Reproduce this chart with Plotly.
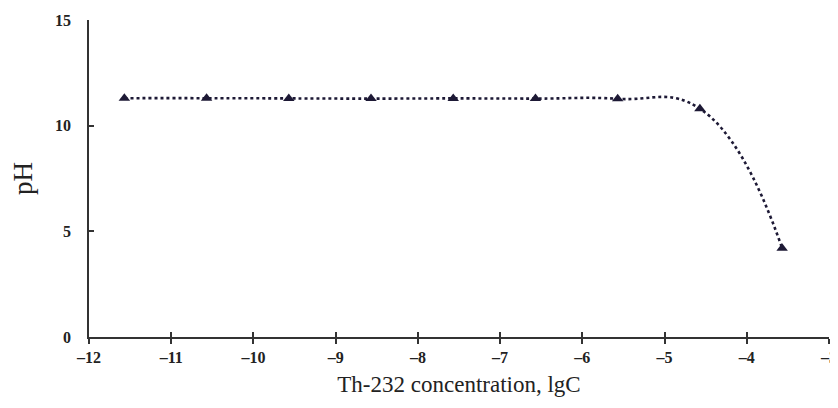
import plotly.graph_objects as go

lgC = [-11.57, -10.57, -9.57, -8.57, -7.57, -6.57, -5.57, -4.57, -3.57]
pH = [11.30, 11.30, 11.29, 11.28, 11.29, 11.28, 11.27, 10.80, 4.20]

x_ticks = [-12, -11, -10, -9, -8, -7, -6, -5, -4, -3]
y_ticks = [0, 5, 10, 15]

navy = "#1d1935"
axis_col = "#333333"
tickfont = dict(family="Liberation Serif", size=16, color="#222222")

fig = go.Figure()
fig.add_trace(go.Scatter(
    x=lgC, y=pH, mode="lines+markers",
    line=dict(color=navy, width=2.6, dash="dot", shape="spline", smoothing=1.3),
    marker=dict(symbol="triangle-up", size=10, color=navy),
    showlegend=False,
))
fig.add_trace(go.Scatter(x=[None], y=[None], xaxis="x2", showlegend=False, hoverinfo="skip"))

# page body adds an 8px offset, so the figure is sized to fit the window
fig.update_layout(
    width=830, height=400,
    margin=dict(l=81, r=9, t=12, b=71, autoexpand=False),
    paper_bgcolor="white", plot_bgcolor="white",
    xaxis=dict(
        range=[-12, -3], tickvals=x_ticks,
        ticktext=["<b>–%d</b>" % abs(v) for v in x_ticks],
        showgrid=False, zeroline=False, automargin=False,
        showline=True, linecolor=axis_col, linewidth=1.5,
        ticks="outside", ticklen=5, tickwidth=1.5, tickcolor=axis_col,
        tickfont=tickfont, ticklabeloverflow="allow",
        title=dict(text="Th-232 concentration, lgC",
                   font=dict(family="Liberation Serif", size=23, color="#222222"),
                   standoff=11),
    ),
    xaxis2=dict(
        range=[-12, -3], tickvals=x_ticks, overlaying="x", side="bottom", anchor="y",
        showgrid=False, zeroline=False, showticklabels=False, automargin=False,
        ticks="inside", ticklen=5, tickwidth=1.5, tickcolor=axis_col,
        showline=False,
    ),
    yaxis=dict(
        range=[0, 15], tickvals=y_ticks,
        ticktext=["<b>%d</b>" % v for v in y_ticks],
        showgrid=False, zeroline=False, automargin=False,
        showline=True, linecolor=axis_col, linewidth=1.5,
        ticks="inside", ticklen=5, tickwidth=1.5, tickcolor=axis_col,
        tickfont=tickfont, ticklabelstandoff=13, ticklabeloverflow="allow",
        title=dict(text="pH",
                   font=dict(family="Liberation Serif", size=27, color="#222222"),
                   standoff=26),
    ),
)

fig.write_html("out.html")
